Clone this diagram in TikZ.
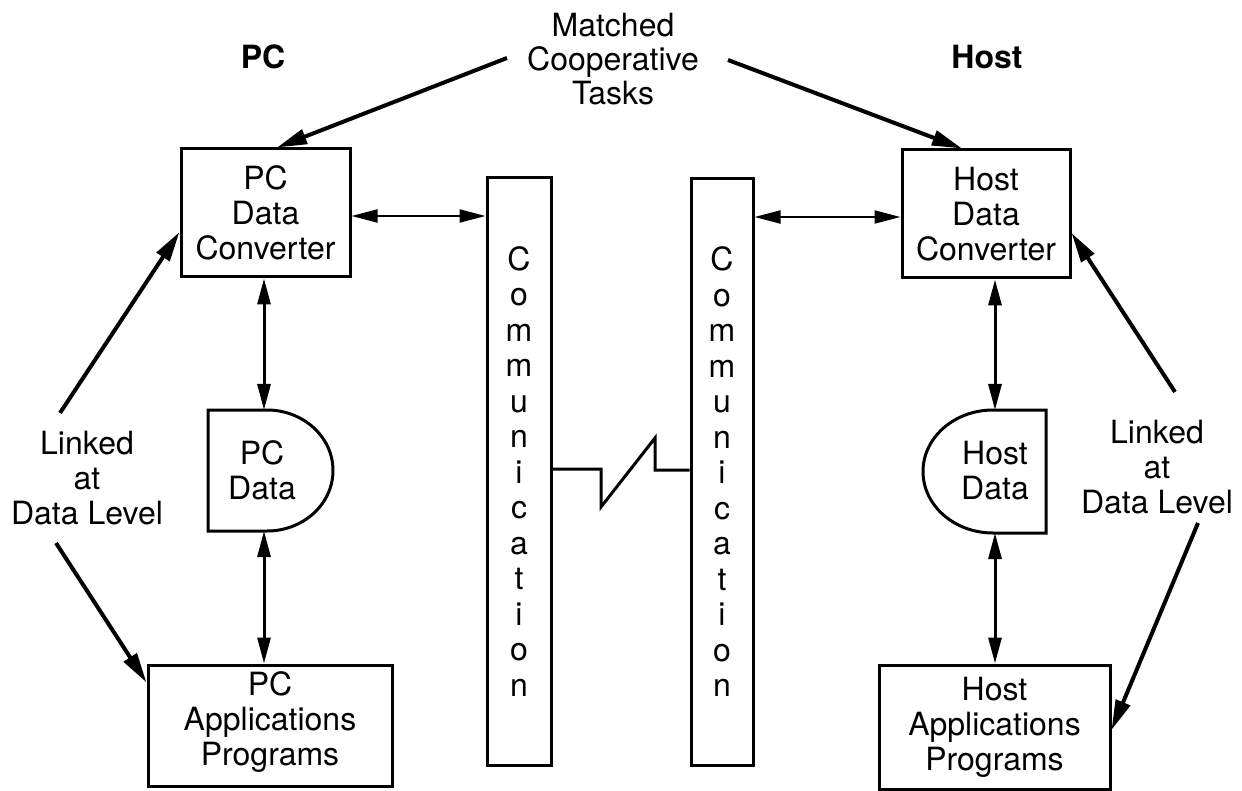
\documentclass[tikz,border=0pt]{standalone}
\usepackage{fontspec}
\setmainfont{TeX Gyre Heros}
\usetikzlibrary{arrows.meta}
\begin{document}
\begin{tikzpicture}[x=1pt,y=-1pt,
  every node/.style={font=\fontsize{32}{35}\selectfont, align=center, inner sep=0pt},
  box/.style={draw, line width=3pt, inner sep=0pt},
  col/.style={draw, line width=3pt, minimum height=587pt, font=\fontsize{32}{35.5}\selectfont},
  lbl/.style={font=\bfseries\fontsize{32}{35}\selectfont},
  biarrow/.style={{Triangle[length=26pt,width=13pt]}-{Triangle[length=26pt,width=13pt]}, line width=2pt},
  vbiarrow/.style={{Triangle[length=26pt,width=13pt]}-{Triangle[length=26pt,width=13pt]}, line width=3pt},
  bigarrow/.style={-{Triangle[length=30pt,width=15pt]}, line width=4pt},
  shapeline/.style={line width=3pt, line join=miter},
]
\useasboundingbox (0,0) rectangle (1242,791);

% boxes
\node[box, minimum width=169pt, minimum height=128pt] (pcconv) at (265.5,213) {PC\\Data\\Converter};
\node[box, minimum width=168pt, minimum height=128pt] (hostconv) at (986,214) {Host\\Data\\Converter};
\node[box, minimum width=244pt, minimum height=121pt] (pcapps) at (270,725.5) {};
\node (pcappst) at ([yshift=3pt]pcapps.center) {PC\\Applications\\Programs};
\node[box, minimum width=231pt, minimum height=124pt] (hostapps) at (994.5,727) {Host\\Applications\\Programs};

% data stores
\draw[shapeline] (208,410) -- (267,410) arc[start angle=90,end angle=-90,x radius=66pt,y radius=60.5pt] -- (208,531) -- cycle;
\node (pcdata) at (262,470) {PC\\Data};
\coordinate (pcdt) at (264,410);
\coordinate (pcdb) at (264,531);

\draw[shapeline] (1046,410) -- (993,410) arc[start angle=90,end angle=270,x radius=70pt,y radius=61.5pt] -- (1046,533) -- cycle;
\node (hostdata) at (995,471) {Host\\Data};
\coordinate (hdt) at (995,410);
\coordinate (hdb) at (995,533);

% communication columns
\node[col, minimum width=64pt] (comm1) at (519,471.5) {C\\o\\m\\m\\u\\n\\i\\c\\a\\t\\i\\o\\n};
\node[col, minimum width=62pt] (comm2) at (722,472) {C\\o\\m\\m\\u\\n\\i\\c\\a\\t\\i\\o\\n};

% zigzag link
\coordinate (zA) at (601,469);
\coordinate (zB) at (601,507);
\coordinate (zC) at (655,438);
\coordinate (zD) at (655,470);
\draw[shapeline] (zA -| comm1.east) -- (zA) -- (zB) -- (zC) -- (zD) -- (zD -| comm2.west);

% horizontal arrows
\coordinate (h1) at ([yshift=-3pt]pcconv.east);
\coordinate (h2) at ([yshift=-3pt]hostconv.west);
\draw[biarrow] (h1) -- (h1 -| comm1.west);
\draw[biarrow] (h2 -| comm2.east) -- (h2);

% vertical arrows
\draw[vbiarrow] (pcconv.south -| pcdt) -- (pcdt);
\draw[vbiarrow] (pcdb) -- (pcapps.north -| pcdb);
\draw[vbiarrow] (hostconv.south -| hdt) -- (hdt);
\draw[vbiarrow] (hdb) -- (hostapps.north -| hdb);

% labels
\node[lbl] (pclbl) at (263,57) {PC};
\node[lbl] (hostlbl) at (987,57) {Host};
\node[font=\fontsize{32}{34}\selectfont] (matched) at (613,59) {Matched\\Cooperative\\Tasks};
\node (linkl) at (87,478) {Linked\\at\\Data Level};
\node (linkr) at (1157,467) {Linked\\at\\Data Level};

% diagonal arrows
\coordinate (m1) at (507,58);
\coordinate (m2) at (728,60);
\draw[bigarrow] (m1) -- ([xshift=11.5pt]pcconv.north);
\draw[bigarrow] (m2) -- ([xshift=-24pt]hostconv.north);
\coordinate (l1) at (60,413);
\coordinate (l2) at (56,543);
\draw[bigarrow] (l1) -- ([yshift=-19pt]pcconv.west);
\draw[bigarrow] (l2) -- ([yshift=43pt]pcapps.west);
\coordinate (r1) at (1175,392);
\coordinate (r2) at (1198,523);
\draw[bigarrow] (r1) -- ([yshift=-19pt]hostconv.east);
\draw[bigarrow] (r2) -- ([yshift=-3pt]hostapps.east);
\end{tikzpicture}
\end{document}
